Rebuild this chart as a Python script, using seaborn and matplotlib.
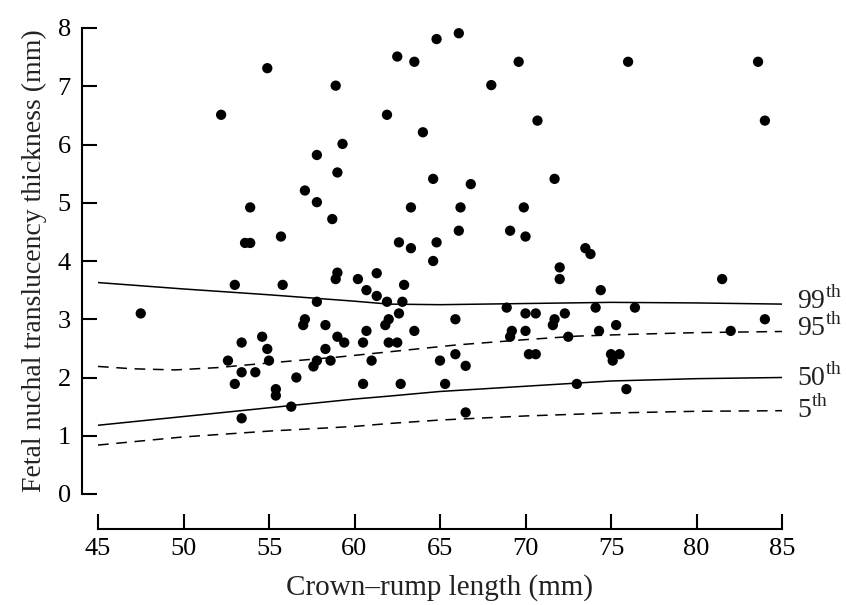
import numpy as np
import pandas as pd
import matplotlib
matplotlib.use("Agg")
import matplotlib.pyplot as plt
import seaborn as sns

# scatter: crown-rump length (mm) vs nuchal translucency (mm)
crl = [54.9, 58.9, 52.2, 57.8, 59.0, 57.1, 57.8, 53.9, 58.7, 53.6, 53.9, 55.7,
       66.1, 64.8, 62.5, 63.5, 69.6, 68.0, 61.9, 70.7, 64.0, 59.3, 64.6, 66.8,
       71.7, 63.3, 66.2, 69.9, 66.1, 69.1, 70.0, 62.6, 63.3, 64.8, 64.6, 76.0,
       83.6, 84.0, 73.5, 73.8, 53.0, 55.8, 59.0, 58.9, 47.5, 57.8, 57.1, 57.0,
       58.3, 59.0, 53.4, 54.6, 54.9, 52.6, 55.0, 53.4, 54.2, 53.0, 58.3, 57.8,
       57.6, 58.6, 56.6, 55.4, 55.4, 56.3, 53.4, 60.2, 61.3, 60.7, 61.3, 62.9,
       61.9, 62.8, 72.0, 72.0, 62.6, 62.0, 61.8, 65.9, 68.9, 70.0, 70.6, 72.3,
       71.7, 71.6, 59.4, 60.7, 60.5, 62.0, 62.5, 63.5, 69.2, 69.1, 70.0, 72.5,
       61.0, 65.0, 65.9, 66.5, 70.2, 70.6, 60.5, 62.7, 65.3, 73.0, 66.5, 81.5,
       74.4, 74.1, 76.4, 75.3, 74.3, 82.0, 84.0, 75.0, 75.5, 75.1, 75.9]
nt = [7.31, 7.01, 6.51, 5.82, 5.52, 5.21, 5.01, 4.92, 4.72, 4.31, 4.31, 4.42,
      7.91, 7.81, 7.51, 7.42, 7.42, 7.02, 6.51, 6.41, 6.21, 6.01, 5.41, 5.32,
      5.41, 4.92, 4.92, 4.92, 4.52, 4.52, 4.42, 4.32, 4.22, 4.32, 4.00, 7.42,
      7.42, 6.41, 4.22, 4.12, 3.59, 3.59, 3.80, 3.69, 3.10, 3.30, 3.00, 2.90,
      2.90, 2.70, 2.60, 2.70, 2.49, 2.29, 2.29, 2.09, 2.09, 1.89, 2.49, 2.29,
      2.19, 2.29, 2.00, 1.80, 1.69, 1.50, 1.30, 3.69, 3.79, 3.50, 3.40, 3.59,
      3.30, 3.30, 3.89, 3.69, 3.10, 3.00, 2.90, 3.00, 3.20, 3.10, 3.10, 3.10,
      3.00, 2.90, 2.60, 2.80, 2.60, 2.60, 2.60, 2.80, 2.80, 2.70, 2.80, 2.70,
      2.29, 2.29, 2.40, 2.20, 2.40, 2.40, 1.89, 1.89, 1.89, 1.89, 1.40, 3.69,
      3.50, 3.20, 3.20, 2.90, 2.80, 2.80, 3.00, 2.40, 2.40, 2.29, 1.80]

# reference centiles
curve_x = [45, 50, 55, 60, 62, 65, 70, 75, 80, 85]
p99 = [3.63, 3.52, 3.42, 3.31, 3.26, 3.25, 3.27, 3.29, 3.28, 3.26]
p50 = [1.18, 1.33, 1.48, 1.63, 1.68, 1.76, 1.85, 1.94, 1.98, 2.00]
p5 = [0.84, 0.98, 1.08, 1.16, 1.21, 1.27, 1.34, 1.39, 1.42, 1.43]
p95_x = [45, 47, 49.5, 52, 55, 59, 62, 66, 70, 73, 76, 80, 85]
p95 = [2.19, 2.15, 2.13, 2.17, 2.25, 2.35, 2.44, 2.56, 2.65, 2.71, 2.74, 2.77, 2.79]

centile_names = ["99", "95", "50", "5"]
label_y = [3.32, 2.86, 1.99, 1.45]

sns.set_theme(style="ticks")
plt.rcParams["font.family"] = ["Liberation Serif", "DejaVu Serif"]
plt.rcParams["mathtext.fontset"] = "custom"
plt.rcParams["mathtext.rm"] = "Liberation Serif"

fig = plt.figure(figsize=(8.46, 6.05), dpi=100)
ax = fig.add_axes([98 / 846, 1 - 494 / 605, (782 - 98) / 846, (494 - 28) / 605])

sns.scatterplot(x=crl, y=nt, ax=ax, color="black", s=55, edgecolor="none",
                clip_on=False, zorder=3)

curves = pd.DataFrame({
    "crl": curve_x * 3 + p95_x,
    "nt": p99 + p50 + p5 + p95,
    "centile": ["99"] * len(curve_x) + ["50"] * len(curve_x)
               + ["5"] * len(curve_x) + ["95"] * len(p95_x),
})
styles = {"99": "-", "95": (0, (7, 5)), "50": "-", "5": (0, (7, 5))}
for name, grp in curves.groupby("centile", sort=False):
    sns.lineplot(data=grp, x="crl", y="nt", ax=ax, color="black", lw=1.1,
                 linestyle=styles[name], legend=False)

for name, yy in zip(centile_names, label_y):
    ax.text(85.9, yy, name + r"$^{\rm th}$", fontsize=20, va="center",
            ha="left", color="#222222", clip_on=False)

ax.set_xlim(45, 85)
ax.set_ylim(0, 8)
ax.set_xticks(range(45, 86, 5))
ax.set_yticks(range(0, 9))
ax.spines["left"].set_position(("outward", 11.5))
ax.spines["bottom"].set_position(("outward", 25))
for side in ["left", "bottom"]:
    ax.spines[side].set_linewidth(1.5)
    ax.spines[side].set_color("black")
sns.despine(ax=ax)
ax.tick_params(direction="in", length=10.5, width=1.5, labelsize=19,
               colors="black", pad=7)
ax.tick_params(axis="y", pad=8)
ax.set_xlabel("Crown\u2013rump length (mm)", fontsize=21, labelpad=10,
              color="#222222")
ax.set_ylabel("Fetal nuchal translucency thickness (mm)", fontsize=20,
              labelpad=8, color="#222222")

fig.savefig("out.png", dpi=100)
